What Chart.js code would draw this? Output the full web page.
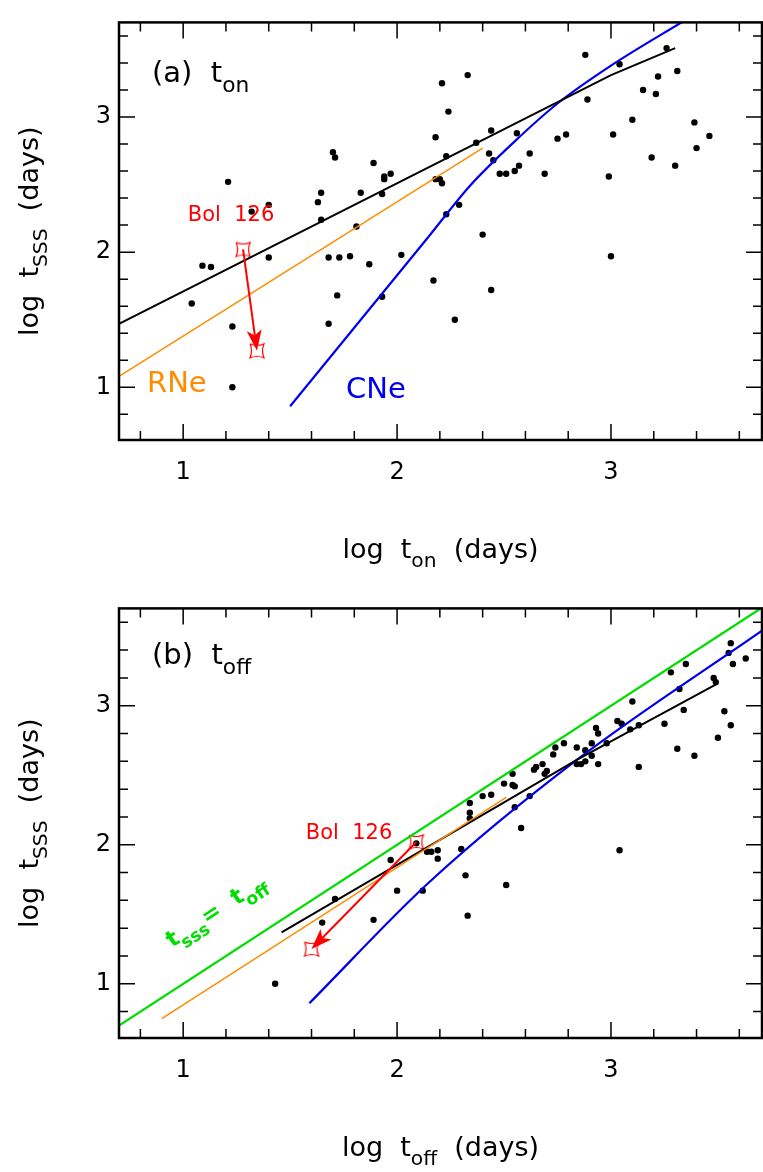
<!DOCTYPE html>
<html><head><meta charset="utf-8">
<script src="https://cdn.jsdelivr.net/npm/chart.js@4.4.1/dist/chart.umd.min.js"></script>
<style>
html,body{margin:0;padding:0;background:#fff;}
.w{width:763px;height:586px;position:relative;}
</style></head><body>
<div class="w"><canvas id="ca"></canvas></div>
<div class="w"><canvas id="cb"></canvas></div>
<script>
// ---------- DATA ----------
const xTickLabels = ['1','2','3'];
const yTickLabels = ['1','2','3'];
// panel (a): log t_on vs log t_SSS
const onX = [1.04,1.09,1.13,1.21,1.23,1.23,1.32,1.40,1.40,1.63,1.645,1.645,1.68,1.68,1.70,1.71,1.72,1.73,1.78,1.81,1.83,1.87,1.89,1.93,1.94,1.94,1.93,1.97,2.02,2.17,2.18,2.18,2.20,2.21,2.21,2.23,2.24,2.23,2.27,2.29,2.33,2.37,2.40,2.43,2.44,2.44,2.45,2.48,2.51,2.55,2.57,2.56,2.62,2.69,2.75,2.79,2.88,2.89,2.99,3.00,3.01,3.04,3.10,3.15,3.19,3.21,3.22,3.26,3.30,3.31,3.39,3.40,3.46];
const onY = [1.62,1.90,1.89,2.52,1.45,1.00,2.30,2.35,1.96,2.37,2.44,2.24,1.96,1.47,2.74,2.70,1.68,1.96,1.97,2.19,2.44,1.91,2.66,2.43,2.56,2.54,1.67,2.58,1.98,1.79,2.85,2.54,2.54,2.51,3.25,2.28,3.04,2.71,1.50,2.35,3.31,2.81,2.13,2.73,2.90,1.72,2.68,2.58,2.58,2.60,2.64,2.88,2.73,2.58,2.84,2.87,3.46,3.13,2.56,1.97,2.87,3.39,2.98,3.20,2.70,3.17,3.30,3.51,2.64,3.34,2.96,2.77,2.86];
const onFitX = [0.70,3.00,3.30], onFitY = [1.47,3.31,3.51];
const onRNeX = [0.70,2.40], onRNeY = [1.08,2.77];
const onCNeX = [1.50,2.15,2.34,2.55,2.75,3.00,3.34], onCNeY = [0.86,2.12,2.49,2.82,3.10,3.38,3.71];
const bolOnFrom = [1.28,2.02], bolOnTo = [1.345,1.27];
// panel (b): log t_off vs log t_SSS
const offX = [1.43,1.65,1.71,1.89,1.97,2.00,2.09,2.12,2.14,2.16,2.19,2.19,2.30,2.32,2.33,2.34,2.34,2.34,2.40,2.44,2.50,2.51,2.54,2.54,2.55,2.55,2.58,2.62,2.64,2.65,2.68,2.69,2.70,2.73,2.74,2.78,2.84,2.84,2.86,2.88,2.88,2.91,2.91,2.93,2.94,2.94,2.98,3.03,3.05,3.04,3.09,3.10,3.13,3.13,3.25,3.28,3.31,3.32,3.34,3.35,3.39,3.48,3.49,3.50,3.53,3.55,3.56,3.56,3.57,3.63];
const offY = [1.00,1.44,1.61,1.46,1.89,1.67,2.01,1.67,1.95,1.95,1.96,1.90,1.97,1.78,1.49,2.19,2.23,2.30,2.35,2.36,2.44,1.71,2.51,2.43,2.42,2.27,2.12,2.35,2.54,2.56,2.58,2.51,2.53,2.65,2.70,2.73,2.70,2.58,2.58,2.60,2.68,2.73,2.64,2.84,2.80,2.58,2.73,2.89,2.87,1.96,2.83,3.03,2.86,2.56,2.87,3.24,2.69,3.12,2.97,3.30,2.64,3.20,3.17,2.77,2.96,3.38,2.86,3.45,3.30,3.34];
const offFitX = [1.46,2.84,3.50], offFitY = [1.37,2.61,3.16];
const offRNeX = [0.90,2.51], offRNeY = [0.75,2.34];
const offCNeX = [1.59,2.15,2.84,3.706], offCNeY = [0.86,1.73,2.61,3.54];
const eqX = [0.70,3.706], eqY = [0.70,3.706];
const bolOffFrom = [2.09,2.02], bolOffTo = [1.60,1.25];

// ---------- helpers ----------
const FONT = '"DejaVu Sans", sans-serif';
const xy = (xs,ys)=>xs.map((x,i)=>({x:x,y:ys[i]}));
function starImg(){
  const c=document.createElement('canvas'); c.width=18; c.height=18;
  const g=c.getContext('2d'); g.strokeStyle='#ff0000'; g.lineWidth=1.2;
  const a=2,b=16,m=9,k=3;
  g.beginPath(); g.moveTo(a,a);
  g.quadraticCurveTo(m,a+k,b,a); g.quadraticCurveTo(b-k,m,b,b);
  g.quadraticCurveTo(m,b-k,a,b); g.quadraticCurveTo(a+k,m,a,a); g.stroke();
  return c;
}
const STAR = starImg();
function subText(ctx,parts,x,y,size,color,align,bold){
  ctx.save(); ctx.fillStyle=color; ctx.textBaseline='alphabetic';
  const f=s=>(bold?'bold ':'')+s+'px '+FONT;
  let w=0; parts.forEach(p=>{ctx.font=f(p[1]?size*0.75:size); w+=ctx.measureText(p[0]).width;});
  let cx = align==='center'? x-w/2 : x;
  parts.forEach(p=>{ctx.font=f(p[1]?size*0.75:size); ctx.textAlign='left';
    ctx.fillText(p[0],cx,y+(p[1]?size*0.35:0)); cx+=ctx.measureText(p[0]).width;});
  ctx.restore();
}
function arrow(ctx,x0,y0,x1,y1){
  ctx.save(); ctx.strokeStyle='#ff0000'; ctx.fillStyle='#ff0000'; ctx.lineWidth=2;
  const ang=Math.atan2(y1-y0,x1-x0), L=22;
  const bx=x1-Math.cos(ang)*L*0.7, by=y1-Math.sin(ang)*L*0.7;
  ctx.beginPath(); ctx.moveTo(x0,y0); ctx.lineTo(bx,by); ctx.stroke();
  ctx.beginPath(); ctx.moveTo(x1,y1);
  ctx.lineTo(x1-Math.cos(ang-0.35)*L, y1-Math.sin(ang-0.35)*L);
  ctx.lineTo(bx,by);
  ctx.lineTo(x1-Math.cos(ang+0.35)*L, y1-Math.sin(ang+0.35)*L);
  ctx.closePath(); ctx.fill(); ctx.restore();
}

function makeChart(id, cfg){
  const topPad = cfg.top;
  const plugin = {
    id:'deco',
    afterDraw(chart){
      const ctx=chart.ctx, xs=chart.scales.x, ys=chart.scales.y, ca=chart.chartArea;
      ctx.save();
      ctx.strokeStyle='#000'; ctx.lineWidth=1.5;
      for(let v=0.8; v<=3.71; v+=0.2){
        const vv=Math.round(v*10)/10, maj=Math.abs(vv-Math.round(vv))<1e-6, L=maj?16:9;
        const px=xs.getPixelForValue(vv);
        if(px>=ca.left && px<=ca.right){
          ctx.beginPath(); ctx.moveTo(px,ca.bottom); ctx.lineTo(px,ca.bottom-L);
          ctx.moveTo(px,ca.top); ctx.lineTo(px,ca.top+L); ctx.stroke();
        }
        const py=ys.getPixelForValue(vv);
        if(py>=ca.top && py<=ca.bottom){
          ctx.beginPath(); ctx.moveTo(ca.left,py); ctx.lineTo(ca.left+L,py);
          ctx.moveTo(ca.right,py); ctx.lineTo(ca.right-L,py); ctx.stroke();
        }
      }
      ctx.lineWidth=2.5; ctx.strokeRect(ca.left,ca.top,ca.right-ca.left,ca.bottom-ca.top);
      arrow(ctx, xs.getPixelForValue(cfg.bolFrom[0]), ys.getPixelForValue(cfg.bolFrom[1]),
                 xs.getPixelForValue(cfg.bolTo[0]), ys.getPixelForValue(cfg.bolTo[1]));
      subText(ctx,[['log  t',0],[cfg.xsub,1],['  (days)',0]], (ca.left+ca.right)/2, ca.bottom+118, 27,'#000','center');
      ctx.save(); ctx.translate(38,(ca.top+ca.bottom)/2); ctx.rotate(-Math.PI/2);
      subText(ctx,[['log  t',0],['SSS',1],['  (days)',0]],0,0,27,'#000','center'); ctx.restore();
      cfg.labels(ctx,xs,ys);
      ctx.restore();
    }
  };
  const datasets = cfg.lines.map(l=>({type:'line',data:xy(l[0],l[1]),borderColor:l[2],borderWidth:l[3],pointRadius:0,fill:false,tension:l[4]?0.35:0,cubicInterpolationMode:l[4]?'monotone':'default'}));
  datasets.push({type:'scatter',data:xy(cfg.px,cfg.py),backgroundColor:'#000',borderWidth:0,pointRadius:3.2});
  datasets.push({type:'scatter',data:[{x:cfg.bolFrom[0],y:cfg.bolFrom[1]},{x:cfg.bolTo[0],y:cfg.bolTo[1]}],pointStyle:STAR,pointRadius:9});
  return new Chart(document.getElementById(id),{
    data:{datasets},
    options:{
      responsive:true, maintainAspectRatio:false, animation:false,
      layout:{autoPadding:false,padding:{left:0,right:1,top:topPad,bottom:0}},
      plugins:{legend:{display:false},tooltip:{enabled:false}},
      scales:{
        x:{type:'linear',min:0.7,max:3.706,
          afterBuildTicks(s){s.ticks=xTickLabels.map(t=>({value:+t}));},
          afterFit(s){s.height=586-topPad-cfg.plotH;},
          grid:{display:false,drawTicks:false},border:{display:false},
          ticks:{padding:18,color:'#000',font:{family:FONT,size:24},callback:v=>String(v)}},
        y:{type:'linear',min:0.61,max:3.70,
          afterBuildTicks(s){s.ticks=yTickLabels.map(t=>({value:+t}));},
          afterFit(s){s.width=119;},
          grid:{display:false,drawTicks:false},border:{display:false},
          ticks:{padding:8,color:'#000',font:{family:FONT,size:24},callback:v=>String(v)}}
      }
    },
    plugins:[plugin]
  });
}

makeChart('ca',{
  top:2, plotH:438, xsub:'on', px:onX, py:onY, bolFrom:bolOnFrom, bolTo:bolOnTo,
  lines:[[onRNeX,onRNeY,'#ff8c00',1.5,0],[onFitX,onFitY,'#000',2,0],[onCNeX,onCNeY,'#0000ee',2.2,1]],
  labels(ctx,xs,ys){
    subText(ctx,[['(a)  t',0],['on',1]],152,82,29,'#000','left');
    subText(ctx,[['Bol  126',0]],231,221,21,'#ff0000','center');
    subText(ctx,[['RNe',0]],147,392,29,'#ff8c00','left');
    subText(ctx,[['CNe',0]],346,398,29,'#0000ee','left');
  }
});
makeChart('cb',{
  top:12, plotH:440, xsub:'off', px:offX, py:offY, bolFrom:bolOffFrom, bolTo:bolOffTo,
  lines:[[eqX,eqY,'#00dd00',2.2,0],[offRNeX,offRNeY,'#ff8c00',1.5,0],[offFitX,offFitY,'#000',2,0],[offCNeX,offCNeY,'#0000ee',2.2,1]],
  labels(ctx,xs,ys){
    subText(ctx,[['(b)  t',0],['off',1]],152,78,29,'#000','left');
    subText(ctx,[['Bol  126',0]],349,253,21,'#ff0000','center');
    ctx.save(); ctx.translate(172,362); ctx.rotate(-0.58);
    subText(ctx,[['t',0],['sss',1],['=  t',0],['off',1]],0,0,23,'#00dd00','left',true);
    ctx.restore();
  }
});
</script></body></html>
